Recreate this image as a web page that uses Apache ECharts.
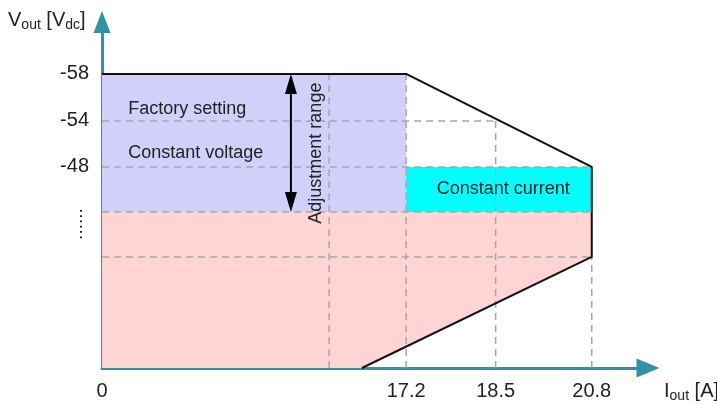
<!DOCTYPE html>
<html>
<head>
<meta charset="utf-8">
<script src="https://cdn.jsdelivr.net/npm/echarts@6/dist/echarts.min.js"></script>
<style>
html,body{margin:0;padding:0;background:#ffffff;}
#chart{width:717px;height:404px;}
</style>
</head>
<body>
<div id="chart"></div>
<script>
// ---- Data (schematic diagram: axes are not drawn to scale) ----
const currentLabels = ['0', '17.2', '18.5', '20.8'];      // I_out tick labels [A]
const currentPos    = [0, 55.7, 72.1, 89.7];               // their place on the diagram's current axis
const voltageLabels = ['-58', '-54', '-48'];               // V_out tick labels [Vdc]
const voltagePos    = [85, 71.4, 58.1];                    // their place on the diagram's voltage axis
const voltageMinPos = 45.1;   // lower end of the adjustment range (unlabelled, "......")
const voltageLowPos = 32.1;   // foldback knee level (unlabelled)
const guideX        = 41.6;   // unlabelled current guide
const foldbackEndX  = 47.6;   // where the foldback line meets the current axis

const annotationTexts = ['Factory setting', 'Constant voltage', 'Constant current', 'Adjustment range', '......'];

// ---- Shapes built from the data ----
const cvRegion = [[0, voltagePos[0]], [currentPos[1], voltagePos[0]], [currentPos[1], voltageMinPos], [0, voltageMinPos]];
const ccRegion = [[currentPos[1], voltagePos[2]], [currentPos[3], voltagePos[2]], [currentPos[3], voltageMinPos], [currentPos[1], voltageMinPos]];
const lowRegion = [[0, voltageMinPos], [currentPos[3], voltageMinPos], [currentPos[3], voltageLowPos], [foldbackEndX, 0], [0, 0]];
const outline = [[0, voltagePos[0]], [currentPos[1], voltagePos[0]], [currentPos[3], voltagePos[2]], [currentPos[3], voltageLowPos], [foldbackEndX, 0]];
const guideSegments = [
  [0, voltagePos[1], currentPos[2], voltagePos[1]],
  [0, voltagePos[2], currentPos[3], voltagePos[2]],
  [0, voltageMinPos, currentPos[3], voltageMinPos],
  [0, voltageLowPos, currentPos[3], voltageLowPos],
  [guideX, 0, guideX, voltagePos[0]],
  [currentPos[1], 0, currentPos[1], voltagePos[0]],
  [currentPos[2], 0, currentPos[2], voltagePos[1]],
  [currentPos[3], 0, currentPos[3], voltageLowPos]
];

const FONT = '"Liberation Sans", Arial, Helvetica, sans-serif';
const TEAL = '#3192a6';
const TXT = '#222222';
const ARROW_X = 'path://M9.5,0L19,23L0,23Z';
const ARROW_Y = 'path://M8.5,0L17,22L0,22Z';

function nearestLabel(v, pos, labels) {
  let best = 0;
  for (let i = 1; i < pos.length; i++) if (Math.abs(pos[i] - v) < Math.abs(pos[best] - v)) best = i;
  return labels[best];
}

function polySeries(points, color, z) {
  return {
    type: 'custom', coordinateSystem: 'cartesian2d', silent: true, z: z,
    data: [0],
    renderItem: function (params, api) {
      return { type: 'polygon', shape: { points: points.map(function (p) { return api.coord(p); }) }, style: { fill: color } };
    }
  };
}

function textItem(api, text, at, opts) {
  const p = api.coord(at);
  return {
    type: 'text', x: p[0], y: p[1], rotation: opts.rotation || 0,
    style: { text: text, fill: TXT, font: (opts.size || 18) + 'px ' + FONT, align: opts.align || 'left', verticalAlign: 'middle' }
  };
}

const chart = echarts.init(document.getElementById('chart'), null, { renderer: 'canvas' });

const option = {
  animation: false,
  backgroundColor: '#ffffff',
  grid: { left: 102, right: 69, top: 22, bottom: 36, containLabel: false },
  xAxis: {
    type: 'value', min: 0, max: 100,
    axisLine: { show: true, onZero: false, symbol: ['none', ARROW_X], symbolSize: [19, 23], lineStyle: { color: TEAL, width: 3 } },
    axisTick: { show: false },
    splitLine: { show: false },
    axisLabel: {
      customValues: currentPos, margin: 13, fontSize: 20, fontFamily: FONT, color: TXT,
      formatter: function (v) { return nearestLabel(v, currentPos, currentLabels); }
    }
  },
  yAxis: {
    type: 'value', min: 0, max: 100,
    axisLine: { show: true, onZero: false, symbol: ['none', ARROW_Y], symbolSize: [17, 22], lineStyle: { color: TEAL, width: 3 } },
    axisTick: { show: false },
    splitLine: { show: false },
    axisLabel: {
      customValues: voltagePos, margin: 13, fontSize: 20, fontFamily: FONT, color: TXT,
      formatter: function (v) { return nearestLabel(v, voltagePos, voltageLabels); }
    }
  },
  graphic: [
    {
      type: 'text', left: 8, top: 9, z: 10,
      style: {
        text: 'V{s|out} [V{s|dc}]', fontSize: 20, fontFamily: FONT, fill: TXT, lineHeight: 23,
        rich: { s: { fontSize: 14, fontFamily: FONT, fill: TXT, verticalAlign: 'bottom', lineHeight: 14 } }
      }
    },
    {
      type: 'text', left: 664, top: 380, z: 10,
      style: {
        text: 'I{s|out} [A]', fontSize: 20, fontFamily: FONT, fill: TXT, lineHeight: 23,
        rich: { s: { fontSize: 14, fontFamily: FONT, fill: TXT, verticalAlign: 'bottom', lineHeight: 14 } }
      }
    }
  ],
  series: [
    polySeries(lowRegion, '#ffd4d4', 1),
    polySeries(cvRegion, '#d0d0fa', 2),
    polySeries(ccRegion, '#00ffff', 3),
    {
      type: 'custom', coordinateSystem: 'cartesian2d', silent: true, z: 4,
      encode: { x: [0, 2], y: [1, 3] },
      data: guideSegments,
      renderItem: function (params, api) {
        const a = api.coord([api.value(0), api.value(1)]);
        const b = api.coord([api.value(2), api.value(3)]);
        return { type: 'line', shape: { x1: a[0], y1: a[1], x2: b[0], y2: b[1] }, style: { stroke: '#a6a6a6', lineWidth: 1.5, lineDash: [7, 5] } };
      }
    },
    {
      type: 'line', z: 5, silent: true, symbol: 'none',
      data: outline,
      lineStyle: { color: '#111111', width: 2 }
    },
    {
      type: 'custom', coordinateSystem: 'cartesian2d', silent: true, z: 6,
      data: [0],
      renderItem: function (params, api) {
        const top = api.coord([34.6, voltagePos[0]]);
        const bot = api.coord([34.6, voltageMinPos]);
        const x = top[0], hl = 20, hw = 6;
        return {
          type: 'group',
          children: [
            { type: 'line', shape: { x1: x, y1: top[1] + hl - 2, x2: x, y2: bot[1] - hl + 2 }, style: { stroke: '#000', lineWidth: 2 } },
            { type: 'polygon', shape: { points: [[x, top[1]], [x - hw, top[1] + hl], [x + hw, top[1] + hl]] }, style: { fill: '#000' } },
            { type: 'polygon', shape: { points: [[x, bot[1]], [x - hw, bot[1] - hl], [x + hw, bot[1] - hl]] }, style: { fill: '#000' } }
          ]
        };
      }
    },
    {
      type: 'custom', coordinateSystem: 'cartesian2d', silent: true, z: 7,
      data: [0],
      renderItem: function (params, api) {
        return {
          type: 'group',
          children: [
            textItem(api, annotationTexts[0], [4.8, 74.9], {}),
            textItem(api, annotationTexts[1], [4.8, 62.1], {}),
            textItem(api, annotationTexts[2], [73.5, 51.7], { align: 'center' }),
            textItem(api, annotationTexts[3], [39.2, 62.1], { align: 'center', rotation: Math.PI / 2 }),
            textItem(api, annotationTexts[4], [-4.6, 41.6], { align: 'center', rotation: Math.PI / 2, size: 19 })
          ]
        };
      }
    }
  ]
};

chart.setOption(option);
</script>
</body>
</html>
